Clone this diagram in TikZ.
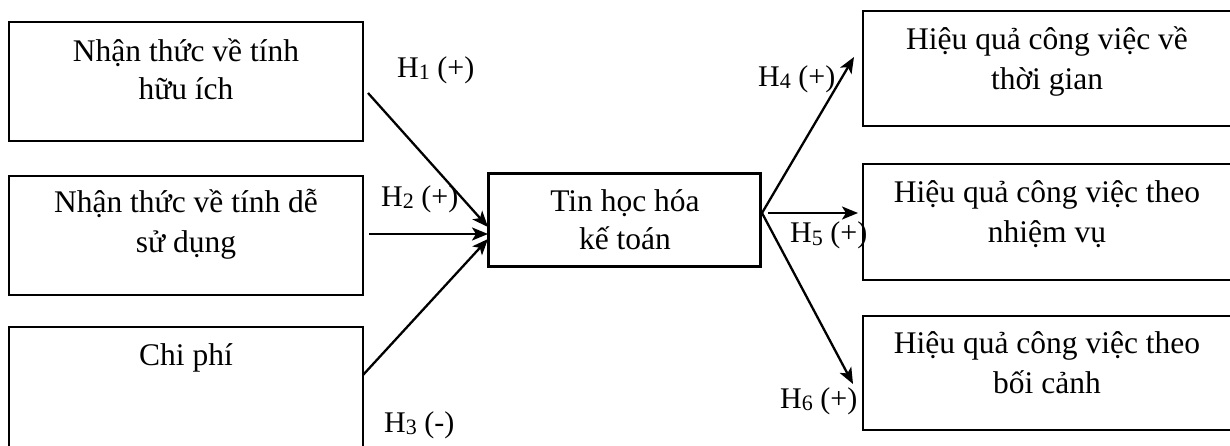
\documentclass[tikz,border=0pt]{standalone}
\usepackage{fontspec}
\setmainfont{Liberation Serif}
\usetikzlibrary{arrows.meta}
\newcommand{\hsub}[1]{\raisebox{-2pt}{\fontsize{22}{22}\selectfont #1}}
\begin{document}
\begin{tikzpicture}[x=1pt,y=-1pt,
 box/.style={draw, line width=2.5pt, inner sep=0pt},
 txt/.style={anchor=base, inner sep=0pt, font=\fontsize{31.5}{38}\selectfont},
 hl/.style={anchor=base west, inner sep=0pt, font=\fontsize{30}{36}\selectfont},
 arr/.style={line width=2.3pt, -{Stealth[length=16pt,width=13pt,inset=4pt]}}]
\useasboundingbox (0,0) rectangle (1230,446);
\clip (0,0) rectangle (1230,446);
% boxes
\node[box, minimum width=354pt, minimum height=119pt] (b1) at (186,81.5) {};
\node[box, minimum width=354pt, minimum height=119pt] (b2) at (186,235.5) {};
\node[box, minimum width=354pt, minimum height=143pt] (b3) at (186,398.5) {};
\node[box, minimum width=272pt, minimum height=93pt] (c) at (624.5,220) {};
\node[box, minimum width=387pt, minimum height=115pt] (r1) at (1056.5,68.5) {};
\node[box, minimum width=387pt, minimum height=116pt] (r2) at (1056.5,222) {};
\node[box, minimum width=387pt, minimum height=114pt] (r3) at (1056.5,373) {};
% texts
\node[txt] (b1a) at (186,62) {Nhận thức về tính};
\node[txt] (b1b) at (186,100) {hữu ích};
\node[txt] (b2a) at (186,213) {Nhận thức về tính dễ};
\node[txt] (b2b) at (186,252) {sử dụng};
\node[txt] (b3a) at (186,365) {Chi phí};
\node[txt] (ca) at (625,212) {Tin học hóa};
\node[txt] (cb) at (625,250) {kế toán};
\node[txt] (r1a) at (1047,50) {Hiệu quả công việc về};
\node[txt] (r1b) at (1047,90) {thời gian};
\node[txt] (r2a) at (1047,203) {Hiệu quả công việc theo};
\node[txt] (r2b) at (1047,242) {nhiệm vụ};
\node[txt] (r3a) at (1047,353) {Hiệu quả công việc theo};
\node[txt] (r3b) at (1047,393) {bối cảnh};
% hypothesis labels
\node[hl] (h1) at (397,78) {H\hsub{1} (+)};
\node[hl] (h2) at (381,207) {H\hsub{2} (+)};
\node[hl] (h3) at (384,432) {H\hsub{3} (-)};
\node[hl] (h4) at (758,87) {H\hsub{4} (+)};
\node[hl] (h5) at (790,243) {H\hsub{5} (+)};
\node[hl] (h6) at (780,408) {H\hsub{6} (+)};
% connector ends
\coordinate (s1) at (368,93);
\coordinate (e1) at (488,227);
\coordinate (s2) at (369,234);
\coordinate (e2) at (488,234);
\coordinate (s3) at (363,375);
\coordinate (e3) at (488,239);
\coordinate (o) at (762,213);
\coordinate (o5) at (768,213);
\coordinate (e4) at (854,57);
\coordinate (e5) at (858,213);
\coordinate (e6) at (853,384);
\draw[arr] (s1) -- (e1);
\draw[arr] (s2) -- (e2);
\draw[arr] (s3) -- (e3);
\draw[arr] (o) -- (e4);
\draw[arr] (o5) -- (e5);
\draw[arr] (o) -- (e6);
\end{tikzpicture}
\end{document}
